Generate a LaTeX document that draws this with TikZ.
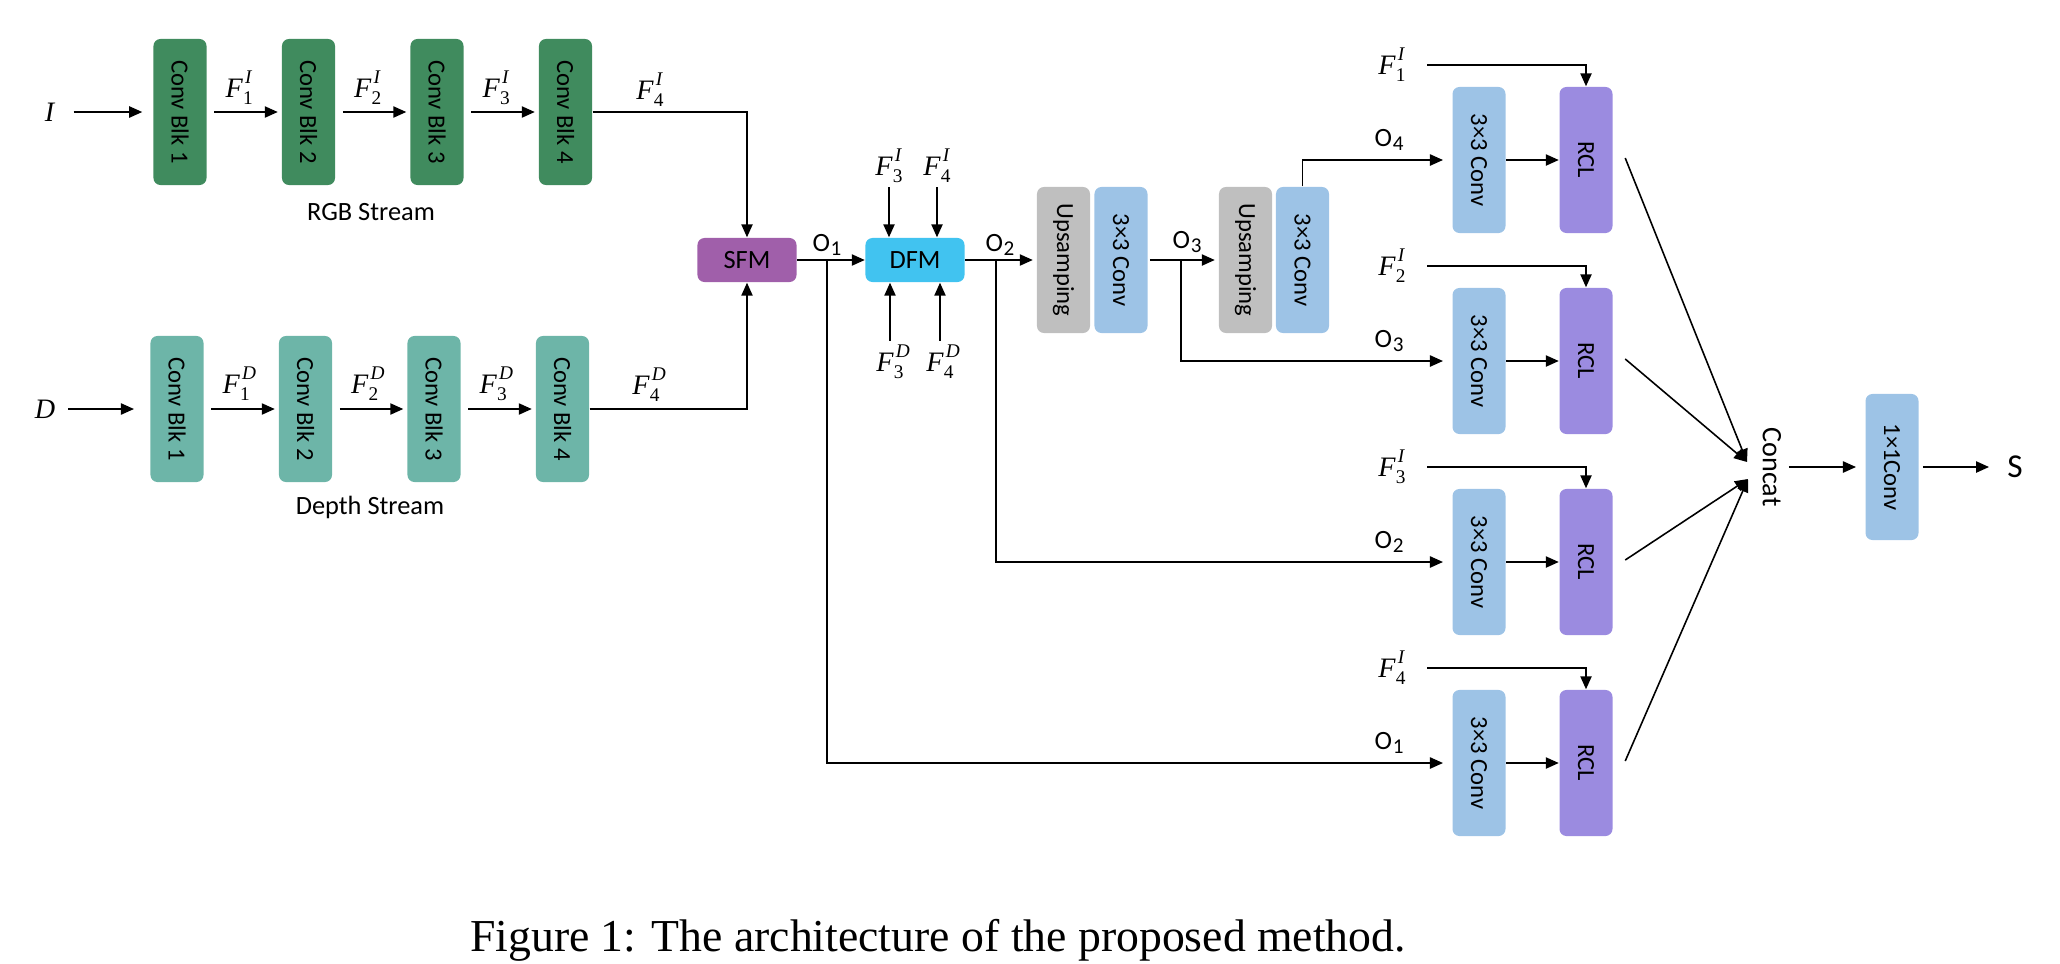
\documentclass[tikz,border=0pt]{standalone}
\usepackage{fontspec}
\setmainfont{Carlito}
\newfontfamily\tms{Liberation Serif}
\usepackage{graphicx}
\usepackage{tikz}
\usepackage{xcolor}
\usetikzlibrary{calc, arrows.meta}

\definecolor{rgbgreen}{HTML}{408B5E}
\definecolor{depthteal}{HTML}{6DB5A8}
\definecolor{sfmpurple}{HTML}{A05FAA}
\definecolor{dfmcyan}{HTML}{41C3F0}
\definecolor{upgray}{HTML}{BFBFBF}
\definecolor{convblue}{HTML}{9DC3E6}
\definecolor{rclpurple}{HTML}{9B8BE0}

\newcommand{\fmap}[2]{{\tms\fontsize{8}{9}\selectfont\textit{F}\rlap{\kern0.6pt\raisebox{1.05ex}{\fontsize{5.5}{6}\selectfont\textit{#2}}}\raisebox{-0.6ex}{\fontsize{5.5}{6}\selectfont #1}}}
\newcommand{\onum}[1]{O\kern0.2pt\raisebox{-0.35ex}{\fontsize{6}{6}\selectfont #1}}
\newcommand{\vtext}[1]{\rotatebox{-90}{#1}}

\tikzset{
  blk/.style={fill=#1, rounded corners=2pt, minimum width=0.53cm, minimum height=1.46cm, inner sep=0pt, font=\fontsize{7}{8}\selectfont},
  wide/.style={fill=#1, rounded corners=2pt, minimum width=0.99cm, minimum height=0.44cm, inner sep=0pt, font=\fontsize{7.5}{8}\selectfont},
  arr/.style={-{Triangle[length=3.7pt,width=3.2pt]}, line width=0.45pt},
  lbl/.style={inner sep=1pt, font=\fontsize{7.5}{8}\selectfont}
}

\begin{document}
\begin{tikzpicture}[x=0.01cm, y=-0.01cm]
      \useasboundingbox (0,0) rectangle (2060,963);

      \foreach \i in {1,...,4} {
          \node[blk=rgbgreen] (R\i) at ({180+128.5*(\i-1)}, 112) {\vtext{Conv Blk \i}};
          \node[blk=depthteal] (D\i) at ({177+128.5*(\i-1)}, 409) {\vtext{Conv Blk \i}};
      }

      \node[lbl, font=\tms\fontsize{8}{9}\selectfont] (IN) at (50,112) {\textit{I}};
      \node[lbl, font=\tms\fontsize{8}{9}\selectfont] (DIN) at (45,409) {\textit{D}};
      \draw[arr, shorten <=4pt, shorten >=3pt] (IN) -- (R1);
      \draw[arr, shorten <=2.5pt, shorten >=4.5pt] (DIN) -- (D1);

      \foreach \i [count=\j from 2] in {1,2,3} {
          \draw[arr, shorten <=2pt, shorten >=1pt] (R\i) -- (R\j);
          \draw[arr, shorten <=2pt, shorten >=1pt] (D\i) -- (D\j);
          \node[lbl] (FR\i) at ($(R\i.east)!0.5!(R\j.west)+(-5,-24)$) {\fmap{\i}{I}};
          \node[lbl] (FD\i) at ($(D\i.east)!0.5!(D\j.west)+(-5,-25)$) {\fmap{\i}{D}};
      }
      \node[lbl] (FR4) at (650,90) {\fmap{4}{I}};
      \node[lbl] (FD4) at (646,385) {\fmap{4}{D}};

      \node[lbl] (RGBL) at (371,212) {RGB Stream};
      \node[lbl] (DEPL) at (370,507) {Depth Stream};

      \node[wide=sfmpurple] (SFM) at (747,260) {SFM};
      \node[wide=dfmcyan] (DFM) at (915,260) {DFM};
      \draw[arr] (R4.east) -| (SFM.north);
      \draw[arr] (D4.east) -| (SFM.south);
      \draw[arr] (SFM) -- (DFM);

      \node[lbl] (F3A) at (889,166) {\fmap{3}{I}};
      \node[lbl] (F4A) at (937,166) {\fmap{4}{I}};
      \node[lbl] (F3B) at (890,362) {\fmap{3}{D}};
      \node[lbl] (F4B) at (940,362) {\fmap{4}{D}};
      \draw[arr] (F3A.south) -- (F3A.south |- DFM.north);
      \draw[arr] (F4A.south) -- (F4A.south |- DFM.north);
      \draw[arr] (F3B.north) -- (F3B.north |- DFM.south);
      \draw[arr] (F4B.north) -- (F4B.north |- DFM.south);

      \node[blk=upgray] (U1) at (1063.5,260) {\vtext{Upsamping}};
      \node[blk=convblue] (C1) at (1121,260) {\vtext{3×3 Conv}};
      \node[blk=upgray] (U2) at (1245.5,260) {\vtext{Upsamping}};
      \node[blk=convblue] (C2) at (1302.5,260) {\vtext{3×3 Conv}};
      \draw[arr, shorten >=1pt] (DFM) -- (U1);
      \draw[arr, shorten <=0.5pt, shorten >=1pt] (C1) -- (U2);

      \node[lbl] (OA1) at (827,245) {\onum{1}};
      \node[lbl] (OA2) at (1000,245) {\onum{2}};
      \node[lbl] (OA3) at (1187,242) {\onum{3}};
      \coordinate (B1) at (827,260);
      \coordinate (B2) at (996,260);
      \coordinate (B3) at (1181,260);

      \foreach \k in {1,...,4} {
          \pgfmathsetmacro{\ry}{160+201*(\k-1)}
          \pgfmathtruncatemacro{\oi}{5-\k}
          \node[blk=convblue] (K\k) at (1479,\ry) {\vtext{3×3 Conv}};
          \node[blk=rclpurple] (L\k) at (1586,\ry) {\vtext{RCL}};
          \node[lbl] (FK\k) at (1392,\ry-95) {\fmap{\k}{I}};
          \node[lbl] (OB\oi) at (1389,\ry-20) {\onum{\oi}};
          \draw[arr, shorten <=5pt] (FK\k.east) -| (L\k.north);
          \draw[arr] (K\k) -- (L\k);
      }

      \draw[arr, shorten >=2.5pt] (B1) |- (K4.west);
      \draw[arr, shorten >=2.5pt] (B2) |- (K3.west);
      \draw[arr, shorten >=2.5pt] (B3) |- (K2.west);
      \draw[arr, shorten >=2.5pt] (C2.north) |- (K1.west);

      \node[lbl, font=\fontsize{8}{9}\selectfont] (CON) at (1772,467) {\vtext{Concat}};
      \coordinate (CA) at (1747,462);
      \coordinate (CB) at (1748,479);
      \foreach \k/\tgt in {1/CA,2/CA,3/CB,4/CB} {
          \draw[arr] ($(L\k.east)+(12,-2)$) -- (\tgt);
      }

      \node[blk=convblue] (K0) at (1892,467) {\vtext{1×1Conv}};
      \node[lbl, font=\fontsize{9.5}{10}\selectfont] (S) at (2015,467) {S};
      \draw[arr, shorten <=1pt, shorten >=2.5pt] (CON) -- (K0);
      \draw[arr, shorten <=1pt, shorten >=4pt] (K0) -- (S);

      \node[anchor=base, inner sep=0pt, font=\tms\fontsize{13}{15}\selectfont] (CAP) at (938,951) {Figure 1: The architecture of the proposed method.};
    \end{tikzpicture}
\end{document}
